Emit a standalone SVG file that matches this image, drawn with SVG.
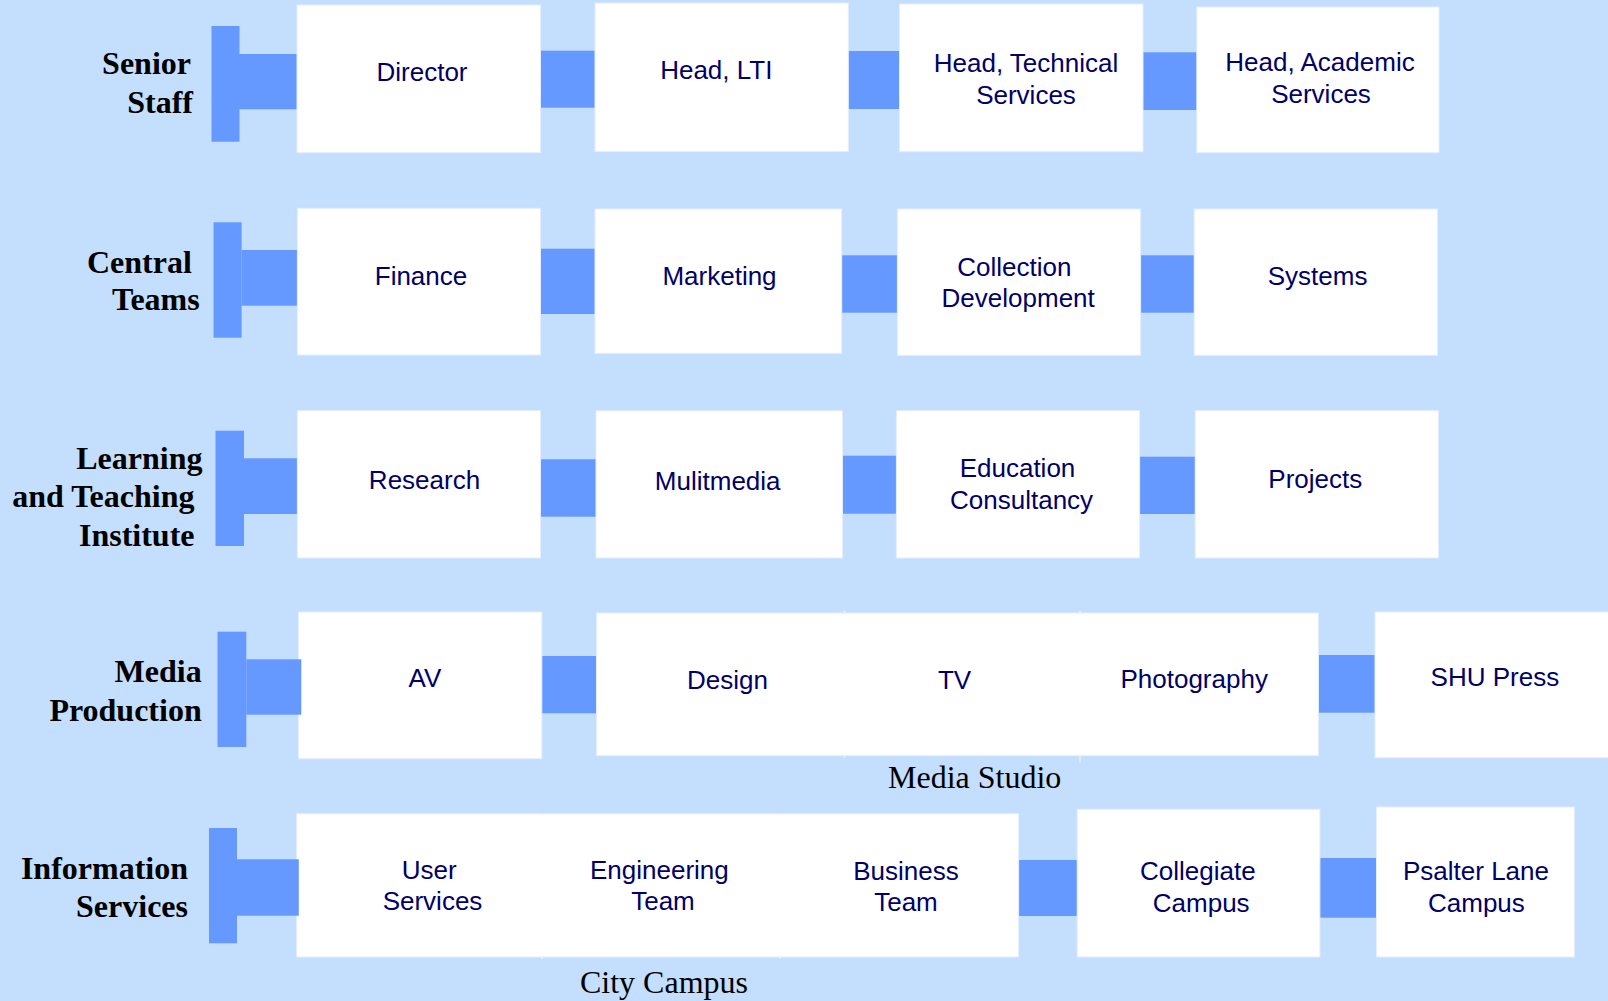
<svg xmlns="http://www.w3.org/2000/svg" width="1608" height="1001" viewBox="0 0 1608 1001">
<style>
.bg{fill:#C4DEFE}
.box{fill:#FFFFFF;stroke:#E4EEFF;stroke-width:1}
.fill{fill:#FFFFFF}
.conn{fill:#6699FF}
.div{stroke:#E8F1FF;stroke-width:1.5}
.t{font-family:"Liberation Sans",Arial,sans-serif;font-size:26px;fill:#000066;text-anchor:middle}
.lab{font-family:"Liberation Serif","Times New Roman",serif;font-size:32px;font-weight:bold;fill:#000000;text-anchor:end}
.cap{font-family:"Liberation Serif","Times New Roman",serif;font-size:32px;fill:#000000;text-anchor:middle}
</style>
<rect class="bg" x="0" y="0" width="1608" height="1001"/>

<g id="connectors">
  <!-- row 1 -->
  <rect class="conn" x="211.5" y="26" width="28" height="115.7"/>
  <rect class="conn" x="239" y="54" width="58" height="55.3"/>
  <rect class="conn" x="539" y="50.7" width="56" height="57"/>
  <rect class="conn" x="848" y="51" width="51.5" height="58"/>
  <rect class="conn" x="1143" y="52.3" width="54" height="57.7"/>
  <!-- row 2 -->
  <rect class="conn" x="213.5" y="222.3" width="28.1" height="115.4"/>
  <rect class="conn" x="241.6" y="250" width="55.8" height="55.7"/>
  <rect class="conn" x="540.5" y="248.7" width="54.5" height="65.3"/>
  <rect class="conn" x="841.7" y="255.3" width="55.7" height="57.4"/>
  <rect class="conn" x="1140.6" y="255.3" width="53.6" height="57.4"/>
  <!-- row 3 -->
  <rect class="conn" x="215.5" y="430.7" width="28.5" height="115.3"/>
  <rect class="conn" x="244" y="458.3" width="53.4" height="55.7"/>
  <rect class="conn" x="540.5" y="459.3" width="55.5" height="57.4"/>
  <rect class="conn" x="842.3" y="455.7" width="54.1" height="58"/>
  <rect class="conn" x="1139.6" y="456.7" width="55.6" height="57.3"/>
  <!-- row 4 -->
  <rect class="conn" x="217.5" y="631.7" width="28.8" height="115.3"/>
  <rect class="conn" x="539.5" y="656" width="57.5" height="57.3"/>
  <rect class="conn" x="1318.4" y="655" width="56.6" height="57.7"/>
  <!-- row 5 -->
  <rect class="conn" x="209" y="828" width="28" height="115.3"/>
  <rect class="conn" x="1016.3" y="860" width="62.7" height="56"/>
  <rect class="conn" x="1316.4" y="858" width="60.1" height="59.7"/>
</g>

<!-- Row labels -->
<g id="label-senior">
  <text class="lab" x="191" y="74">Senior</text>
  <text class="lab" x="193" y="112.7">Staff</text>
</g>
<g id="label-central">
  <text class="lab" x="191.8" y="272.7">Central</text>
  <text class="lab" x="199.7" y="310">Teams</text>
</g>
<g id="label-lti">
  <text class="lab" x="202.5" y="469.3">Learning</text>
  <text class="lab" x="194.5" y="506.7">and Teaching</text>
  <text class="lab" x="194.5" y="545.7">Institute</text>
</g>
<g id="label-media">
  <text class="lab" x="201.7" y="681.7">Media</text>
  <text class="lab" x="201.7" y="720.7">Production</text>
</g>
<g id="label-is">
  <text class="lab" x="188" y="879">Information</text>
  <text class="lab" x="188" y="916.7">Services</text>
</g>

<!-- Row 1 -->
<g id="director">
  <rect class="box" x="297" y="5" width="243.5" height="147.7"/>
  <text class="t" x="422" y="80.7">Director</text>
</g>
<g id="head-lti">
  <rect class="box" x="595" y="3" width="253.3" height="148.5"/>
  <text class="t" x="716.3" y="79.2">Head, LTI</text>
</g>
<g id="head-technical">
  <rect class="box" x="899.5" y="4" width="243.5" height="147.7"/>
  <text class="t" x="1026" y="71.7">Head, Technical</text>
  <text class="t" x="1026" y="103.7">Services</text>
</g>
<g id="head-academic">
  <rect class="box" x="1196.8" y="7" width="242.2" height="145.7"/>
  <text class="t" x="1320" y="71">Head, Academic</text>
  <text class="t" x="1321" y="102.7">Services</text>
</g>

<!-- Row 2 -->
<g id="finance">
  <rect class="box" x="297.4" y="208.3" width="243.1" height="146.7"/>
  <text class="t" x="421" y="285">Finance</text>
</g>
<g id="marketing">
  <rect class="box" x="595" y="209" width="246.7" height="144.3"/>
  <text class="t" x="719.5" y="285.4">Marketing</text>
</g>
<g id="collection">
  <rect class="box" x="897.4" y="209" width="243.2" height="146.3"/>
  <text class="t" x="1014.4" y="276.3">Collection</text>
  <text class="t" x="1018.2" y="307.3">Development</text>
</g>
<g id="systems">
  <rect class="box" x="1194.2" y="209" width="243.2" height="146.3"/>
  <text class="t" x="1317.6" y="285">Systems</text>
</g>

<!-- Row 3 -->
<g id="research">
  <rect class="box" x="297.4" y="410.7" width="243.1" height="147.3"/>
  <text class="t" x="424.5" y="489">Research</text>
</g>
<g id="multimedia">
  <rect class="box" x="596" y="410.8" width="246.5" height="147.2"/>
  <text class="t" x="717.7" y="490">Mulitmedia</text>
</g>
<g id="education">
  <rect class="box" x="896.4" y="410.7" width="243.2" height="147.3"/>
  <text class="t" x="1017.5" y="477.3">Education</text>
  <text class="t" x="1021.6" y="509">Consultancy</text>
</g>
<g id="projects">
  <rect class="box" x="1195.2" y="410.7" width="243.3" height="147.3"/>
  <text class="t" x="1315.3" y="488.3">Projects</text>
</g>

<!-- Row 4 -->
<g id="av">
  <rect class="box" x="298.5" y="612" width="243.3" height="146.7"/>
  <text class="t" x="425" y="686.7">AV</text>
</g>
<rect class="conn" x="246.3" y="659.3" width="55" height="55.4"/>
<g id="media-studio">
  <rect class="box" x="596.5" y="613" width="248" height="142.7"/>
  <rect class="box" x="844.5" y="613" width="235.5" height="142.7"/>
  <rect class="box" x="1080" y="613" width="238.4" height="142.7"/>
  <line class="div" x1="844.5" y1="610.7" x2="844.5" y2="757.7"/>
  <line class="div" x1="1080" y1="610.7" x2="1080" y2="762.7"/>
  <rect class="fill" x="598" y="614" width="719" height="141"/>
  <g id="design">
    <text class="t" x="727.4" y="689">Design</text>
  </g>
  <g id="tv">
    <text class="t" x="954.6" y="689">TV</text>
  </g>
  <g id="photography">
    <text class="t" x="1194.2" y="688.3">Photography</text>
  </g>
  <text class="cap" x="974.7" y="787.7">Media Studio</text>
</g>
<g id="shu-press">
  <rect class="box" x="1375" y="612" width="240" height="145.7"/>
  <text class="t" x="1494.9" y="686">SHU Press</text>
</g>

<!-- Row 5 -->
<g id="city-campus">
  <rect class="box" x="296.7" y="813.7" width="721.9" height="143.3"/>
  <line class="div" x1="542.3" y1="814" x2="542.3" y2="959"/>
  <line class="div" x1="780" y1="814" x2="780" y2="959"/>
  <rect class="fill" x="298" y="815" width="719" height="141"/>
  <g id="user-services">
    <text class="t" x="429.3" y="879">User</text>
    <text class="t" x="432.5" y="910">Services</text>
  </g>
  <g id="engineering">
    <text class="t" x="659.4" y="879">Engineering</text>
    <text class="t" x="663" y="910">Team</text>
  </g>
  <g id="business">
    <text class="t" x="906" y="880">Business</text>
    <text class="t" x="906" y="911">Team</text>
  </g>
  <text class="cap" x="664" y="993">City Campus</text>
</g>
<rect class="conn" x="237" y="859.3" width="61.8" height="56.4"/>
<g id="collegiate">
  <rect class="box" x="1077.2" y="809.3" width="242.7" height="147.7"/>
  <text class="t" x="1197.8" y="880">Collegiate</text>
  <text class="t" x="1201.2" y="911.7">Campus</text>
</g>
<g id="psalter">
  <rect class="box" x="1376.5" y="807" width="197.8" height="150"/>
  <text class="t" x="1476" y="880">Psalter Lane</text>
  <text class="t" x="1476.4" y="911.7">Campus</text>
</g>
</svg>
